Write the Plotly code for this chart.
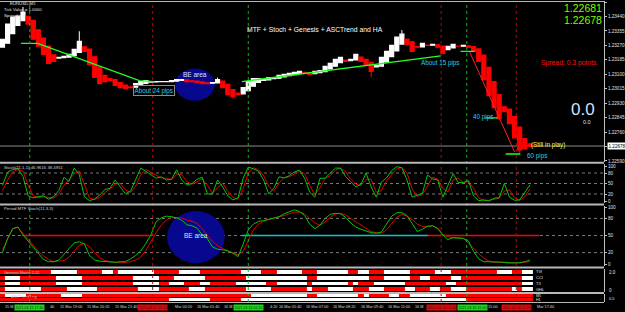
import plotly.graph_objects as go

# ---------------- data ----------------
STEP_MIN = 15          # minutes per candle (x axis = minutes after 15 Mar 16:20)
OPEN_FIRST = 1.23260
CLOSE = [1.23306,1.23395,1.23436,1.23442,1.23466,1.23395,1.23306,1.23265,1.23217,1.23164,
         1.23176,1.23199,1.23205,1.23217,1.23247,1.23294,1.23235,1.23158,1.23081,1.23045,
         1.23057,1.23063,1.23034,1.23022,1.23016,1.23022,1.23045,1.23057,1.23063,1.23057,
         1.23057,1.23057,1.23057,1.23063,1.23069,1.23069,1.23057,1.23057,1.23051,1.23045,
         1.23045,1.23051,1.23069,1.23022,1.22980,1.22969,1.22980,1.23022,1.23057,1.23075,
         1.23075,1.23069,1.23081,1.23081,1.23093,1.23099,1.23105,1.23111,1.23117,1.23105,
         1.23099,1.23117,1.23122,1.23146,1.23164,1.23188,1.23199,1.23176,1.23188,1.23217,
         1.23176,1.23152,1.23117,1.23152,1.23199,1.23235,1.23270,1.23318,1.23336,1.23276,
         1.23235,1.23259,1.23282,1.23270,1.23276,1.23259,1.23223,1.23265,1.23276,1.23265,
         1.23270,1.23259,1.23235,1.23176,1.23069,1.22974,1.22903,1.22838,1.22880,1.22809,
         1.22726,1.22655,1.22661,1.22678]
WICK_HIGH_IDX = [4, 15, 42, 78, 98]
WICK_HIGH_VAL = [1.23496, 1.23353, 1.23081, 1.23360, 1.22909]
WICK_LOW_IDX = [45, 72, 101]
WICK_LOW_VAL = [1.22957, 1.23081, 1.22637]

STOCH_MAIN = [45,82,90,93,70,15,9,11,15,5, 12,30,68,56,94,75,12,1,6,17,
              33,36,60,40,21,28,60,94,85,75, 65,69,60,62,89,60,45,50,62,68,
              20,20,60,40,15,3,9,65,97,92, 85,60,20,37,69,66,72,83,88,65,
              25,11,65,65,80,94,94,70,55,40, 48,80,40,11,54,66,87,98,95,60,
              11,16,22,74,63,60,11,45,78,53, 53,58,14,1,3,0,8,9,50,11,
              2,3,23,46]
STOCH_SIG = [30,60,84,90,85,45,15,10,12,10, 8,20,45,60,78,86,45,8,4,10,
             24,34,48,50,32,24,42,76,90,82, 72,66,65,61,75,76,55,48,55,64,
             45,22,38,50,28,10,5,35,80,95, 90,72,42,28,52,67,69,78,85,78,
             45,18,38,65,72,88,94,84,62,48, 44,62,62,25,30,58,76,92,96,80,
             35,13,18,45,68,62,36,26,60,66, 53,55,36,8,2,2,4,8,28,32,
             8,2,12,34]
MTF_MAIN = [20,45,62,65,51,40,28,18,8,4, 4,7,17,28,37,39,35,15,7,5,
            4,3,3,4,4,9,15,23,36,52, 74,81,84,83,81,77,69,67,63,51,
            45,30,26,25,23,19,13,35,60,70, 75,76,78,80,83,88,92,95,92,85,
            70,62,68,80,87,89,88,82,72,65, 61,58,55,54,56,70,84,90,90,85,
            72,57,61,66,67,62,51,43,46,46, 45,40,22,9,4,4,4,4,3,2,
            2,2,4,7]
MTF_SIG = [25,45,62,64,54,44,33,22,14,8, 4,5,6,12,22,33,36,30,20,11,
           6,4,3,2,3,4,7,12,24,40, 55,68,77,82,82,81,77,75,71,62,
           50,40,32,27,23,20,16,22,40,60, 70,75,78,80,82,85,88,91,91,88,
           80,72,68,74,82,88,89,86,80,74, 68,62,57,55,54,60,72,82,87,84,
           78,70,66,66,67,63,52,48,46,46, 45,36,28,18,10,5,3,3,2,2,
           2,2,3,4]

# Genesis matrix rows: (state, candles) 1 = red, 0 = white
GENESIS_LABELS = ["TVI", "CCI", "T3", "GHL"]
GENESIS_RUNS = [
    [(1,10),(0,5),(1,5),(0,2),(1,1),(0,7),(1,5),(0,4),(1,8),(0,4),(1,3),(0,5),(1,3),(0,6),(1,2),(0,2),(1,3),(0,5),(1,5),(0,3),(1,9),(0,3),(1,2),(0,2)],
    [(1,1),(0,3),(1,7),(0,5),(1,10),(0,5),(1,3),(0,6),(1,8),(0,12),(1,2),(0,10),(1,3),(0,5),(1,2),(0,2),(1,4),(0,2),(1,12),(0,2)],
    [(1,1),(0,3),(1,7),(0,5),(1,10),(0,5),(1,2),(0,3),(1,3),(0,2),(1,5),(0,6),(1,2),(0,6),(1,1),(0,7),(1,1),(0,1),(1,3),(0,6),(1,8),(0,2),(1,13),(0,2)],
    [(1,1),(0,7),(1,5),(0,6),(1,8),(0,4),(1,6),(0,3),(1,8),(0,5),(1,7),(0,1),(1,3),(0,5),(1,3),(0,3),(1,4),(0,2),(1,3),(0,2),(1,2),(0,3),(1,9),(0,1),(1,1),(0,2)],
]
ASC_LABELS = ["M5", "H1"]
ASC_RUNS = [
    [(1,1),(0,4),(1,7),(0,4),(1,33),(0,11),(1,2),(0,8),(1,1),(0,1),(1,4),(0,2),(1,2),(0,7),(1,17)],
    [(1,33),(0,8),(1,6),(0,44),(1,13)],
]

PRICE_TICKS = [1.22590,1.22675,1.22760,1.22845,1.22930,1.23015,1.23100,1.23185,1.23270,1.23355,1.23440,1.23525]
LAST_PRICE = 1.22678
ASK_PRICE = 1.22681

# time axis labels fully visible, and the fragments left visible beside the line boxes
TIME_TICK_MIN = [160, 240, 320, 560, 800, 880, 960, 1040, 1120]
TIME_TICK_TEXT = ["15 Mar 19:00", "15 Mar 20:20", "15 Mar 21:40", "16 Mar 01:40", "16 Mar 05:40",
                  "16 Mar 07:00", "16 Mar 08:20", "16 Mar 09:40", "16 Mar 11:00"]
TIME_FRAG_MIN = [0, 130, 497, 640, 774, 1200, 1413, 1558]
TIME_FRAG_TEXT = ["15 M", "40", "Mar 00:20", "16 M", "4:20", "16 M", "15:00", "Mar 17:40"]

VLINE_MIN = [80, 440, 720, 1285, 1360, 1505]
VLINE_LABEL_MIN = [80, 440, 720, 1285, 1377, 1505]
VLINE_KIND = ["g", "r", "g", "r", "g", "r"]
VLINE_TEXT = ["2021.03.15 17:40", "2021.03.15 23:40", "2021.03.16 04:20",
              "2021.03.16 13:45", "2021.03.16 15:00", "2021.03.16 17:25"]

GREEN_TREND = [
    ([54, 103, 401, 445], [1.23282, 1.23282, 1.23063, 1.23057]),
    ([701, 1284], [1.23057, 1.23208]),
    ([1342, 1383], [1.23235, 1.23235]),
    ([1415, 1450], [1.22844, 1.22844]),
    ([1474, 1517], [1.22631, 1.22631]),
]
RED_TREND = ([1369, 1500], [1.23229, 1.22643])

MTF_LEVEL_RED = [([57, 430], [50, 50]), ([1246, 1573], [50, 50])]
MTF_LEVEL_CYAN = ([701, 1246], [50, 50])

# ---------------- figure ----------------
FONT = "Liberation Sans, Arial, sans-serif"
GREEN = "#00c800"
RED = "#e00000"

def pdy(py):
    return (302.0 - py) / 301.0

def pdx(px):
    return px / 606.0

n = len(CLOSE)
T = [i * STEP_MIN for i in range(n)]
O = [OPEN_FIRST]
for i in range(1, n):
    O.append(round((O[i - 1] + CLOSE[i - 1]) / 2, 6))
H = [max(o, c) for o, c in zip(O, CLOSE)]
L = [min(o, c) for o, c in zip(O, CLOSE)]
for i, v in zip(WICK_HIGH_IDX, WICK_HIGH_VAL):
    H[i] = max(H[i], v)
for i, v in zip(WICK_LOW_IDX, WICK_LOW_VAL):
    L[i] = min(L[i], v)

def expand(runs):
    out = []
    for s, k in runs:
        out += [s] * k
    return out

fig = go.Figure()

# Heikin-Ashi style candles: wicks + bodies
for up, col in [(True, "#ffffff"), (False, "#ff0000")]:
    idx = [i for i in range(n) if (CLOSE[i] >= O[i]) == up]
    wx, wy = [], []
    for i in idx:
        wx += [T[i], T[i], None]
        wy += [L[i], H[i], None]
    fig.add_trace(go.Scatter(x=wx, y=wy, mode="lines", line=dict(color=col, width=1),
                             xaxis="x", yaxis="y", showlegend=False, hoverinfo="skip"))
    fig.add_trace(go.Bar(x=[T[i] for i in idx],
                         y=[abs(CLOSE[i] - O[i]) for i in idx],
                         base=[min(CLOSE[i], O[i]) for i in idx],
                         width=STEP_MIN * 0.78,
                         marker=dict(color=col, line=dict(color=col, width=1.2)),
                         xaxis="x", yaxis="y", showlegend=False, hoverinfo="skip"))

for xs, ys in GREEN_TREND:
    fig.add_trace(go.Scatter(x=xs, y=ys, mode="lines", line=dict(color="#22ff22", width=1.3),
                             xaxis="x", yaxis="y", showlegend=False, hoverinfo="skip"))
fig.add_trace(go.Scatter(x=RED_TREND[0], y=RED_TREND[1], mode="lines", line=dict(color="#ff2020", width=1),
                         xaxis="x", yaxis="y", showlegend=False, hoverinfo="skip"))

# Stoch panel
fig.add_trace(go.Scatter(x=T, y=STOCH_SIG, mode="lines", line=dict(color=RED, width=1),
                         xaxis="x", yaxis="y2", showlegend=False, hoverinfo="skip"))
fig.add_trace(go.Scatter(x=T, y=STOCH_MAIN, mode="lines", line=dict(color=GREEN, width=1),
                         xaxis="x", yaxis="y2", showlegend=False, hoverinfo="skip"))

# MTF stoch panel
for xs, ys in MTF_LEVEL_RED:
    fig.add_trace(go.Scatter(x=xs, y=ys, mode="lines", line=dict(color="#ff0000", width=1.5),
                             xaxis="x", yaxis="y3", showlegend=False, hoverinfo="skip"))
fig.add_trace(go.Scatter(x=MTF_LEVEL_CYAN[0], y=MTF_LEVEL_CYAN[1], mode="lines", line=dict(color="#00c8d8", width=1.5),
                         xaxis="x", yaxis="y3", showlegend=False, hoverinfo="skip"))
fig.add_trace(go.Scatter(x=T, y=MTF_SIG, mode="lines", line=dict(color=RED, width=1),
                         xaxis="x", yaxis="y3", showlegend=False, hoverinfo="skip"))
fig.add_trace(go.Scatter(x=T, y=MTF_MAIN, mode="lines", line=dict(color=GREEN, width=1),
                         xaxis="x", yaxis="y3", showlegend=False, hoverinfo="skip"))

CS = [[0, "#ffffff"], [0.5, "#ffffff"], [0.5, "#ff0000"], [1, "#ff0000"]]
fig.add_trace(go.Heatmap(x=T, y=list(range(len(GENESIS_RUNS))), z=[expand(r) for r in GENESIS_RUNS],
                         colorscale=CS, zmin=0, zmax=1, showscale=False, ygap=2,
                         xaxis="x", yaxis="y4", hoverinfo="skip"))
fig.add_trace(go.Heatmap(x=T, y=list(range(len(ASC_RUNS))), z=[expand(r) for r in ASC_RUNS],
                         colorscale=CS, zmin=0, zmax=1, showscale=False, ygap=1,
                         xaxis="x", yaxis="y5", hoverinfo="skip"))

# ---------------- layout ----------------
tickfont = dict(family=FONT, size=4.6, color="#e0e0e0")
common_y = dict(side="right", showgrid=False, zeroline=False, ticks="outside", ticklen=2,
                tickcolor="#c0c0c0", tickfont=tickfont, showline=True, linecolor="#c0c0c0",
                linewidth=1, anchor="x", fixedrange=True)

fig.update_layout(
    width=625, height=312, margin=dict(l=0, r=19, t=1, b=10),
    paper_bgcolor="#000000", plot_bgcolor="#000000", showlegend=False, barmode="overlay",
    xaxis=dict(range=[-7.3, 1762], showticklabels=False, showgrid=False, zeroline=False,
               anchor="y5", domain=[0, 1], showline=False, fixedrange=True),
    yaxis=dict(domain=[pdy(161.5), pdy(1)], range=[1.22587, 1.23531], tickvals=PRICE_TICKS,
               ticktext=[f"{v:.5f}" for v in PRICE_TICKS], **common_y),
    yaxis2=dict(domain=[pdy(203), pdy(164)], range=[-5.7, 105.7], tickvals=[0, 20, 50, 80, 100],
                ticktext=["0", "20", "50", "80", "100"], **common_y),
    yaxis3=dict(domain=[pdy(266), pdy(206)], range=[-3.5, 101.8], tickvals=[0, 20, 50, 80, 100],
                ticktext=["0", "20", "50", "80", "100"], **common_y),
    yaxis4=dict(domain=[pdy(292), pdy(269)], range=[3.5, -0.5], showticklabels=False, ticks="",
                showgrid=False, zeroline=False, showline=True, linecolor="#c0c0c0", side="right",
                anchor="x", fixedrange=True),
    yaxis5=dict(domain=[pdy(302), pdy(294)], range=[1.5, -0.5], showticklabels=False, ticks="",
                showgrid=False, zeroline=False, showline=True, linecolor="#c0c0c0", side="right",
                anchor="x", fixedrange=True),
)

shapes = []
# BE area ellipses (behind lines)
shapes.append(dict(type="circle", xref="x", yref="y", x0=505, x1=622, y0=1.22945, y1=1.23134,
                   fillcolor="#08088e", line=dict(width=0), layer="below"))
shapes.append(dict(type="circle", xref="x", yref="y3", x0=482, x1=651, y0=1.5, y1=93,
                   fillcolor="#08088e", line=dict(width=0), layer="below"))
# bid line
shapes.append(dict(type="line", xref="paper", yref="y", x0=0, x1=1, y0=LAST_PRICE, y1=LAST_PRICE,
                   line=dict(color="#8c8c8c", width=1), layer="below"))
# level lines
for ax in ["y2", "y3"]:
    for lv in [20, 50, 80]:
        shapes.append(dict(type="line", xref="paper", yref=ax, x0=0, x1=1, y0=lv, y1=lv,
                           line=dict(color="#7a7a7a", width=1, dash="dot"), layer="below"))
# vertical period lines
for tm, k in zip(VLINE_MIN, VLINE_KIND):
    shapes.append(dict(type="line", xref="x", yref="paper", x0=tm, x1=tm, y0=0, y1=1,
                       line=dict(color="#00c000" if k == "g" else "#c00000", width=1, dash="dot")))
# panel separators
for py in [1.5, 162.7, 204.6, 267.6, 293.0, 302.5]:
    shapes.append(dict(type="line", xref="paper", yref="paper", x0=0, x1=1, y0=pdy(py), y1=pdy(py),
                       line=dict(color="#b8b8b8", width=2 if py not in (1.5, 302.5) else 1)))
fig.update_layout(shapes=shapes)

ann = []
def txt(text, x, y, xref="paper", yref="paper", size=6.4, color="#ffffff", xanchor="left",
        yanchor="middle", **kw):
    ann.append(dict(text=text, x=x, y=y, xref=xref, yref=yref, showarrow=False,
                    font=dict(family=FONT, size=size, color=color), xanchor=xanchor,
                    yanchor=yanchor, **kw))

# header texts
txt("EURUSD,M5", pdx(8), pdy(3.5), size=4.3, color="#e0e0e0")
txt("Tick Value = 1.0000", pdx(2), pdy(10), size=4.3, color="#e0e0e0")
txt("Spread = 3", pdx(2), pdy(15.5), size=4.3, color="#e0e0e0")
txt("MTF + Stoch + Genesis + ASCTrend and HA", pdx(316), pdy(29.5), size=6.8, xanchor="center")
txt(f"{ASK_PRICE:.5f}", pdx(606), pdy(7.8), size=10.5, color="#7cfc00", xanchor="right")
txt(f"{LAST_PRICE:.5f}", pdx(606), pdy(19.5), size=10.5, color="#7cfc00", xanchor="right")
txt("Spread: 0.3 points.", pdx(602), pdy(63), size=6.8, color="#ff1010", xanchor="right")
txt("0.0", pdx(585), pdy(109), size=17, color="#d0e0ff", xanchor="center")
txt("0.0", pdx(589), pdy(122), size=5.5, color="#d0e0ff", xanchor="center")

# chart notes (data coordinates)
txt("About 24 pips", 381, 1.23004, xref="x", yref="y", size=6.3, color="#22d0e8",
    bordercolor="#8a8a8a", borderwidth=1, borderpad=0.5)
txt("BE area", 564, 1.23099, xref="x", yref="y", size=6.5, color="#cfe6ff", xanchor="center")
txt("About 15 pips", 1220, 1.23164, xref="x", yref="y", size=6.3, color="#22d0e8")
txt("40 pips", 1372, 1.22850, xref="x", yref="y", size=6.3, color="#22d0e8")
txt("60 pips", 1532, 1.22619, xref="x", yref="y", size=6.3, color="#22d0e8")
txt("(Still in play)", 1543, 1.22684, xref="x", yref="y", size=6.3, color="#ffee55")
txt("BE area", 566, 50, xref="x", yref="y3", size=6.5, color="#cfe6ff", xanchor="center")

# current price box
txt(f"{LAST_PRICE:.5f}", 1.0, LAST_PRICE, xref="paper", yref="y", size=4.6, color="#000000",
    bgcolor="#ffffff", borderpad=0.5, xshift=3)

# indicator captions
txt("Stoch(11,1,1) 46.9616 38.4951", pdx(2), pdy(167.5), size=4.3, color="#d0d0d0")
txt("Period MTF Stoch(11,3,3)", pdx(2), pdy(208.5), size=4.3, color="#d0d0d0")
txt("Genesis Matrix 2.22", pdx(2), pdy(272.5), size=4.0, color="#c8c8c8")
txt("ASCTrend1sig", pdx(9), pdy(296), size=4.0, color="#c8c8c8")
for i, lab in enumerate(GENESIS_LABELS):
    txt(lab, 1556, i, xref="x", yref="y4", size=4.0, color="#e0e0e0")
for i, lab in enumerate(ASC_LABELS):
    txt(lab, 1556, i, xref="x", yref="y5", size=3.6, color="#e0e0e0")
txt("2.0", 1.0, pdy(272), size=4.5, color="#e0e0e0", xshift=3)
txt("0", 1.0, pdy(290), size=4.5, color="#e0e0e0", xshift=3)
txt("0.5", 1.0, pdy(298), size=4.0, color="#e0e0e0", xshift=3)

# time axis
for tm, lab in zip(TIME_TICK_MIN + TIME_FRAG_MIN, TIME_TICK_TEXT + TIME_FRAG_TEXT):
    txt(lab, tm, pdy(307), xref="x", size=3.8, color="#dcdcdc", xshift=1)
for tm, k, lab in zip(VLINE_LABEL_MIN, VLINE_KIND, VLINE_TEXT):
    txt(lab, tm, pdy(307), xref="x", size=3.6, color="#202020", xanchor="center",
        bgcolor="#10e010" if k == "g" else "#f00000", borderpad=0.6)

fig.update_layout(annotations=ann)
fig.write_html("out.html")
